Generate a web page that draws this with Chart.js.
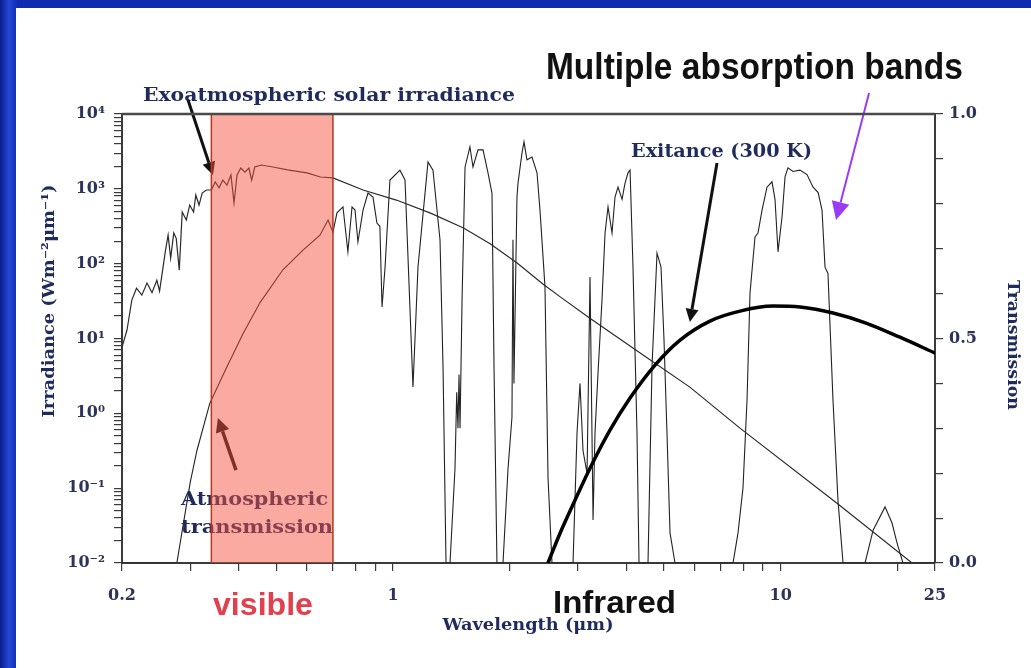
<!DOCTYPE html>
<html>
<head>
<meta charset="utf-8">
<title>Solar irradiance, 300 K exitance and atmospheric transmission</title>
<script src="https://cdn.jsdelivr.net/npm/chart.js@4.4.1/dist/chart.umd.min.js"></script>
<style>
  html, body { margin: 0; padding: 0; background: #0f2bb0; }
  #wrap { width: 1031px; height: 668px; }
</style>
</head>
<body>
<div id="wrap"><canvas id="spectrum" width="1031" height="668"></canvas></div>
<script>
// values (wavelength in um)
const solarWavelength = [0.2, 0.206, 0.212, 0.218, 0.225, 0.232, 0.239, 0.246, 0.25, 0.255, 0.259, 0.263, 0.267, 0.272, 0.276, 0.281, 0.286, 0.293, 0.299, 0.306, 0.31, 0.316, 0.322, 0.33, 0.34, 0.348, 0.356, 0.364, 0.373, 0.382, 0.389, 0.396, 0.405, 0.415, 0.425, 0.432, 0.44, 0.458, 0.49, 0.535, 0.6, 0.65, 0.7, 0.837, 1.02, 1.25, 1.52, 1.78, 2.09, 2.44, 2.7, 3.22, 4.34, 5.83, 7.85, 13.97, 22.5];
const solarIrradiance = [7.7, 12.9, 32.6, 47, 38, 55, 41, 60, 43, 87, 152, 241, 119, 257, 218, 82, 490, 383, 607, 490, 826, 607, 879, 964, 964, 1233, 1030, 1310, 1120, 1528, 646, 1528, 1897, 1675, 1897, 1310, 1956, 2080, 1956, 1790, 1630, 1440, 1400, 964, 708, 474, 300, 185, 102, 53, 36, 18.7, 6.38, 2.24, 0.634, 0.063, 0.0088];

const transWavelength = [0.2, 0.277, 0.3, 0.312, 0.337, 0.373, 0.41, 0.454, 0.52, 0.586, 0.648, 0.68, 0.7, 0.717, 0.743, 0.765, 0.784, 0.798, 0.812, 0.837, 0.862, 0.888, 0.909, 0.925, 0.937, 0.954, 0.982, 1.042, 1.074, 1.126, 1.16, 1.231, 1.268, 1.322, 1.346, 1.37, 1.403, 1.445, 1.46, 1.471, 1.48, 1.489, 1.507, 1.534, 1.579, 1.608, 1.657, 1.707, 1.758, 1.8, 1.822, 1.854, 1.922, 1.98, 2.027, 2.039, 2.051, 2.088, 2.101, 2.151, 2.177, 2.216, 2.283, 2.352, 2.394, 2.466, 2.511, 2.571, 2.913, 2.983, 3.036, 3.091, 3.166, 3.222, 3.281, 3.319, 3.379, 3.46, 3.523, 3.586, 3.672, 3.738, 3.805, 3.897, 3.967, 4.038, 4.087, 4.159, 4.259, 4.311, 4.547, 4.656, 4.797, 4.912, 5.0, 5.089, 5.182, 5.338, 7.534, 7.76, 7.993, 8.187, 8.333, 8.584, 8.738, 8.95, 9.218, 9.495, 9.667, 9.84, 10.08, 10.26, 10.44, 10.76, 11.21, 11.69, 12.12, 12.49, 12.78, 13.01, 13.24, 13.64, 14.05, 14.48, 16.5, 17.31, 18.58, 19.37, 19.95, 20.67, 25];
const transmission = [0, 0, 0.18, 0.25, 0.356, 0.437, 0.51, 0.58, 0.653, 0.697, 0.73, 0.764, 0.737, 0.78, 0.793, 0.693, 0.793, 0.786, 0.715, 0.786, 0.824, 0.815, 0.757, 0.75, 0.57, 0.659, 0.853, 0.875, 0.853, 0.392, 0.659, 0.893, 0.875, 0.72, 0.437, 0, 0, 0.21, 0.38, 0.3, 0.42, 0.3, 0.586, 0.882, 0.927, 0.882, 0.92, 0.92, 0.869, 0.824, 0.437, 0, 0, 0.21, 0.325, 0.72, 0.4, 0.815, 0.846, 0.913, 0.938, 0.898, 0.904, 0.869, 0.786, 0.615, 0.19, 0, 0, 0.29, 0.4, 0.25, 0.2, 0.637, 0.096, 0.29, 0.423, 0.586, 0.735, 0.793, 0.735, 0.815, 0.837, 0.81, 0.846, 0.869, 0.875, 0.659, 0.29, 0, 0, 0.437, 0.69, 0.659, 0.497, 0.29, 0.067, 0, 0, 0.067, 0.167, 0.363, 0.601, 0.726, 0.735, 0.786, 0.837, 0.849, 0.81, 0.693, 0.771, 0.86, 0.88, 0.872, 0.875, 0.865, 0.837, 0.825, 0.786, 0.659, 0.645, 0.363, 0.14, 0, 0, 0.073, 0.125, 0.089, 0.045, 0, 0];

const exitWavelength = [2.51, 2.697, 2.947, 3.222, 3.628, 4.087, 4.741, 5.5, 6.57, 7.852, 9.552, 11.21, 13.64, 16.6, 20.3, 25];
const exitance = [0.01, 0.025, 0.069, 0.185, 0.596, 1.6, 4.41, 9.52, 17.1, 23.2, 27.1, 26.3, 21.9, 16.1, 10.4, 6.38];

const visibleRange = [0.34, 0.70];
const wavelengthLabels = [0.2, 1, 10, 25];
const transmissionLabels = [0, 0.5, 1];

const navy = '#1f2b5c';
const tickFont = { family: 'DejaVu Serif', size: 16, weight: 'bold' };
const SUP = { '-': '\u207B', '0': '\u2070', '1': '\u00B9', '2': '\u00B2', '3': '\u00B3', '4': '\u2074' };

const pts = (xs, ys) => xs.map((x, i) => ({ x: x, y: ys[i] }));
const near = (a, b) => Math.abs(a - b) < 1e-6 * Math.max(1, Math.abs(b));

// drop the 1.5 x 10^n ticks chart.js adds on log scales
function dropHalfTicks(scale) {
  scale.ticks = scale.ticks.filter(t => {
    const m = t.value / Math.pow(10, Math.floor(Math.log10(t.value) + 1e-9));
    return !near(m, 1.5);
  });
}

// annotations placed in data space: x = wavelength, t = transmission axis
const notes = [
  { text: 'Exoatmospheric solar irradiance', x: 0.2265, t: 1.029, font: 'bold 19px "DejaVu Serif"', color: navy, width: 372 },
  { text: 'Multiple absorption bands', x: 2.48, t: 1.078, font: 'bold 37px "Liberation Sans"', color: '#111', width: 417 },
  { text: 'Exitance (300 K)', x: 4.11, t: 0.904, font: 'bold 19px "DejaVu Serif"', color: navy, width: 181 },
  { text: 'Atmospheric', x: 0.284, t: 0.129, font: 'bold 19px "DejaVu Serif"', color: navy, width: 147 },
  { text: 'transmission', x: 0.284, t: 0.067, font: 'bold 19px "DejaVu Serif"', color: navy, width: 152 },
  { text: 'Wavelength (\u03BCm)', x: 2.23, t: -0.149, font: 'bold 17px "DejaVu Serif"', color: navy, width: 171, align: 'center' },
  { text: 'visible', x: 0.3433, t: -0.116, font: 'bold 31px "Liberation Sans"', color: '#e2404e', width: 100 },
  { text: 'Infrared', x: 2.586, t: -0.111, font: 'bold 32px "Liberation Sans"', color: '#111', width: 123 },
  { text: 'Irradiance (Wm\u207B\u00B2\u03BCm\u207B\u00B9)', x: 0.1304, t: 0.5835, font: 'bold 17px "DejaVu Serif"', color: navy, width: 233, align: 'center', rotate: -Math.PI / 2 },
  { text: 'Transmission', x: 39.5, t: 0.4855, font: 'bold 17px "DejaVu Serif"', color: navy, width: 130, align: 'center', rotate: Math.PI / 2 }
];

const arrows = [
  { from: [0.296, 1.031], to: [0.3433, 0.864], color: '#111', width: 3, head: 13 },
  { from: [0.3936, 0.207], to: [0.3536, 0.323], color: '#111', width: 3.5, head: 14 },
  { from: [6.85, 0.891], to: [5.83, 0.537], color: '#111', width: 3, head: 13 },
  { from: [16.9, 1.047], to: [13.89, 0.764], color: '#9a3cf5', width: 2, head: 18 }
];

function drawArrow(ctx, x0, y0, x1, y1, a) {
  const ang = Math.atan2(y1 - y0, x1 - x0);
  const bx = x1 - a.head * Math.cos(ang), by = y1 - a.head * Math.sin(ang);
  const hw = a.head * 0.5;
  ctx.strokeStyle = a.color;
  ctx.lineWidth = a.width;
  ctx.beginPath();
  ctx.moveTo(x0, y0);
  ctx.lineTo(bx, by);
  ctx.stroke();
  ctx.fillStyle = a.color;
  ctx.beginPath();
  ctx.moveTo(x1, y1);
  ctx.lineTo(bx + hw * Math.sin(ang), by - hw * Math.cos(ang));
  ctx.lineTo(bx - hw * Math.sin(ang), by + hw * Math.cos(ang));
  ctx.closePath();
  ctx.fill();
}

function drawNote(ctx, n, px, py) {
  ctx.save();
  ctx.font = n.font;
  ctx.fillStyle = n.color;
  ctx.textBaseline = n.rotate ? 'middle' : 'alphabetic';
  ctx.textAlign = n.align || 'left';
  const w = ctx.measureText(n.text).width;
  ctx.translate(px, py);
  if (n.rotate) ctx.rotate(n.rotate);
  ctx.scale(n.width / w, 1);
  ctx.fillText(n.text, 0, 0);
  ctx.restore();
}

const slidePlugin = {
  id: 'slide',
  beforeDraw(chart) {
    const { ctx, width, height } = chart;
    ctx.save();
    const g = ctx.createLinearGradient(0, 0, 18, 0);
    g.addColorStop(0, '#0a1c8c');
    g.addColorStop(0.5, '#2347d8');
    g.addColorStop(1, '#0f2bb0');
    ctx.fillStyle = g;
    ctx.fillRect(0, 0, width, height);
    ctx.fillStyle = '#ffffff';
    ctx.fillRect(16, 8, width - 16, height - 8);
    ctx.restore();
  },
  afterDatasetsDraw(chart) {
    const { ctx, chartArea } = chart;
    const xs = chart.scales.x, ts = chart.scales.y2;
    ctx.save();
    notes.forEach(n => drawNote(ctx, n, xs.getPixelForValue(n.x), ts.getPixelForValue(n.t)));
    arrows.forEach(a => drawArrow(ctx,
      xs.getPixelForValue(a.from[0]), ts.getPixelForValue(a.from[1]),
      xs.getPixelForValue(a.to[0]), ts.getPixelForValue(a.to[1]), a));

    // visible band laid over the curves
    const x0 = xs.getPixelForValue(visibleRange[0]);
    const x1 = xs.getPixelForValue(visibleRange[1]);
    ctx.fillStyle = 'rgba(245, 82, 61, 0.49)';
    ctx.fillRect(x0, chartArea.top, x1 - x0, chartArea.bottom - chartArea.top);
    ctx.strokeStyle = '#b5391c';
    ctx.lineWidth = 1.5;
    ctx.beginPath();
    ctx.moveTo(x0, chartArea.top); ctx.lineTo(x0, chartArea.bottom);
    ctx.moveTo(x1, chartArea.top); ctx.lineTo(x1, chartArea.bottom);
    ctx.stroke();

    // top frame line
    ctx.strokeStyle = '#4a4a4a';
    ctx.lineWidth = 2.5;
    ctx.beginPath();
    ctx.moveTo(chartArea.left, chartArea.top);
    ctx.lineTo(chartArea.right, chartArea.top);
    ctx.stroke();
    ctx.restore();
  }
};

const axisGrid = { drawOnChartArea: false, drawTicks: true, tickLength: 8, color: '#3a3a3a', lineWidth: 1.2 };
const axisBorder = { display: true, color: '#3a3a3a', width: 2 };

new Chart(document.getElementById('spectrum'), {
  type: 'line',
  data: {
    datasets: [
      {
        label: 'Exitance (300 K)',
        data: pts(exitWavelength, exitance),
        yAxisID: 'y',
        borderColor: '#000',
        borderWidth: 3.5,
        cubicInterpolationMode: 'monotone',
        pointRadius: 0
      },
      {
        label: 'Exoatmospheric solar irradiance',
        data: pts(solarWavelength, solarIrradiance),
        yAxisID: 'y',
        borderColor: '#2a2a2a',
        borderWidth: 1.2,
        tension: 0,
        pointRadius: 0
      },
      {
        label: 'Atmospheric transmission',
        data: pts(transWavelength, transmission),
        yAxisID: 'y2',
        borderColor: '#222',
        borderWidth: 1.1,
        tension: 0,
        pointRadius: 0
      }
    ]
  },
  options: {
    responsive: false,
    animation: false,
    devicePixelRatio: 1,
    layout: { padding: { top: 114, left: 0, right: 0, bottom: 0 } },
    plugins: {
      legend: { display: false },
      tooltip: { enabled: false }
    },
    scales: {
      x: {
        type: 'logarithmic',
        position: 'bottom',
        min: 0.2,
        max: 25,
        afterFit(s) { s.height = 105; },
        afterBuildTicks: dropHalfTicks,
        grid: axisGrid,
        border: axisBorder,
        ticks: {
          autoSkip: false,
          maxRotation: 0,
          padding: 15,
          color: '#2c3358',
          font: tickFont,
          callback: v => wavelengthLabels.some(l => near(v, l)) ? String(v) : ''
        }
      },
      y: {
        type: 'logarithmic',
        position: 'left',
        min: 0.01,
        max: 10000,
        afterFit(s) { s.width = 122; },
        afterBuildTicks: dropHalfTicks,
        grid: axisGrid,
        border: axisBorder,
        ticks: {
          autoSkip: false,
          padding: 9,
          color: '#2c3358',
          font: tickFont,
          callback: v => {
            const e = Math.log10(v);
            if (Math.abs(e - Math.round(e)) > 1e-6) return '';
            return '10' + String(Math.round(e)).split('').map(c => SUP[c]).join('');
          }
        }
      },
      y2: {
        type: 'linear',
        position: 'right',
        min: 0,
        max: 1,
        afterFit(s) { s.width = 96; },
        grid: axisGrid,
        border: axisBorder,
        ticks: {
          stepSize: 0.1,
          autoSkip: false,
          padding: 6,
          color: '#2c3358',
          font: tickFont,
          callback: v => transmissionLabels.some(l => near(v, l)) ? v.toFixed(1) : ''
        }
      }
    }
  },
  plugins: [slidePlugin]
});
</script>
</body>
</html>
